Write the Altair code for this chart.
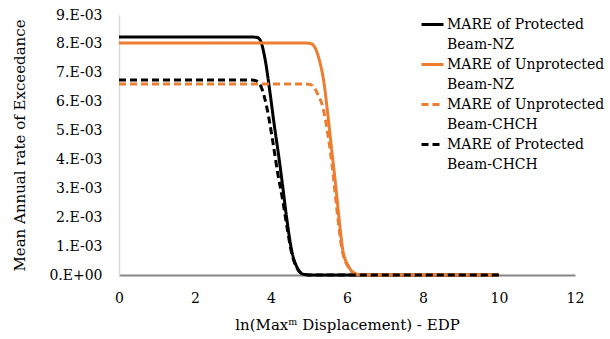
import altair as alt
import pandas as pd

series_names = [
    "MARE of Protected\nBeam-NZ",
    "MARE of Unprotected\nBeam-NZ",
    "MARE of Unprotected\nBeam-CHCH",
    "MARE of Protected\nBeam-CHCH",
]
series_colors = ["#000000", "#ED7D31", "#ED7D31", "#000000"]
series_dash = [[1, 0], [1, 0], [7, 4], [7, 4]]
series_width = [3, 3, 2, 2]

# Protected Beam-NZ (black solid)
x_pnz = [0, 3.5, 3.64, 3.72, 3.84, 3.97, 4.08, 4.2, 4.3, 4.41, 4.54, 4.68, 4.84, 5.0, 10]
y_pnz = [8.24e-3, 8.24e-3, 8.22e-3, 8.12e-3, 7.5e-3, 6.35e-3, 5.25e-3, 4.15e-3, 3.15e-3,
         2.0e-3, 0.87e-3, 0.28e-3, 0.03e-3, 0.0, 0.0]

# Unprotected Beam-NZ (orange solid)
x_unz = [0, 4.9, 5.05, 5.13, 5.26, 5.4, 5.5, 5.6, 5.69, 5.78, 5.89, 6.05, 6.22, 6.4, 10]
y_unz = [8.03e-3, 8.03e-3, 8.01e-3, 7.93e-3, 7.5e-3, 6.6e-3, 5.5e-3, 4.3e-3, 3.25e-3,
         2.1e-3, 0.87e-3, 0.28e-3, 0.05e-3, 0.0, 0.0]

# Unprotected Beam-CHCH (orange dashed)
x_uch = [0, 4.9, 5.05, 5.13, 5.24, 5.37, 5.47, 5.56, 5.65, 5.74, 5.86, 6.03, 6.2, 6.4, 10]
y_uch = [6.61e-3, 6.61e-3, 6.59e-3, 6.5e-3, 6.23e-3, 5.78e-3, 5.09e-3, 4.3e-3, 3.3e-3,
         2.2e-3, 0.95e-3, 0.28e-3, 0.05e-3, 0.0, 0.0]

# Protected Beam-CHCH (black dashed)
x_pch = [0, 3.5, 3.6, 3.68, 3.76, 3.89, 4.05, 4.18, 4.3, 4.41, 4.54, 4.68, 4.84, 5.0, 10]
y_pch = [6.75e-3, 6.75e-3, 6.73e-3, 6.65e-3, 6.45e-3, 5.8e-3, 4.6e-3, 3.5e-3, 2.65e-3,
         1.75e-3, 0.78e-3, 0.25e-3, 0.03e-3, 0.0, 0.0]

x_ticks = [0, 2, 4, 6, 8, 10, 12]
y_ticks = [0.0, 0.001, 0.002, 0.003, 0.004, 0.005, 0.006, 0.007, 0.008, 0.009]

rows = []
for name, xs, ys in zip(series_names, [x_pnz, x_unz, x_uch, x_pch], [y_pnz, y_unz, y_uch, y_pch]):
    for i, (xv, yv) in enumerate(zip(xs, ys)):
        rows.append({"series": name, "x": xv, "y": yv, "i": i})
df = pd.DataFrame(rows)

FONT = "DejaVu Serif"
TXT = "#000000"

legend = alt.Legend(
    title=None,
    orient="none",
    legendX=301,
    legendY=-3,
    padding=0,
    symbolType="stroke",
    symbolSize=484,
    labelExpr="split(datum.label, '\\n')",
    labelFont=FONT,
    labelFontSize=14,
    labelColor=TXT,
    labelLimit=0,
    labelOffset=2,
    rowPadding=-1,
    labelBaseline="middle",
)

chart = alt.Chart(df).mark_line(interpolate="monotone").encode(
    x=alt.X("x:Q",
            scale=alt.Scale(domain=[0, 12], nice=False),
            axis=alt.Axis(values=x_ticks, title="ln(Maxᵐ Displacement) - EDP",
                          grid=False, ticks=False, domainColor="#868686", domainWidth=2,
                          labelPadding=16, titlePadding=12, labelFlush=False,
                          labelOverlap=False, labelBound=False)),
    y=alt.Y("y:Q",
            scale=alt.Scale(domain=[0, 0.009], nice=False),
            axis=alt.Axis(values=y_ticks, title="Mean Annual rate of Exceedance",
                          grid=False, ticks=False, domainColor="#d9d9d9", domainWidth=1.5,
                          labelExpr="datum.value < 1e-9 ? '0.E+00' : format(datum.value*1000, '.0f') + '.E-03'",
                          labelPadding=17, titlePadding=21, labelOverlap=False, labelBound=False,
                          labelFlush=False)),
    color=alt.Color("series:N", scale=alt.Scale(domain=series_names, range=series_colors), legend=legend),
    strokeDash=alt.StrokeDash("series:N", scale=alt.Scale(domain=series_names, range=series_dash), legend=legend),
    strokeWidth=alt.StrokeWidth("series:N", scale=alt.Scale(domain=series_names, range=series_width), legend=legend),
    order="i:Q",
).properties(
    width=456,
    height=260,
    padding={"left": 119, "top": 15, "right": 35, "bottom": 64},
    autosize=alt.AutoSizeParams(type="none"),
).configure(
    background="white",
    style={"guide-label": {"lineHeight": 20}},
).configure_view(stroke=None).configure_axis(
    labelFont=FONT, labelFontSize=14, labelColor=TXT,
    titleFont=FONT, titleFontSize=15, titleColor=TXT, titleFontWeight="normal",
)

chart.save("out.html", embed_options={"renderer": "svg", "actions": False})
